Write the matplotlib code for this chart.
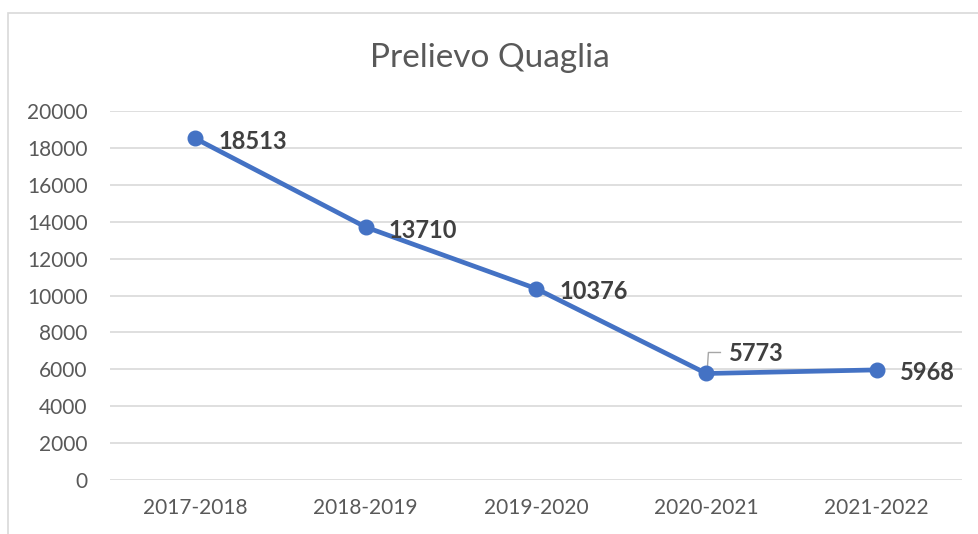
import matplotlib
matplotlib.use("Agg")
import matplotlib.pyplot as plt
from matplotlib.patches import Rectangle

categories = ["2017-2018", "2018-2019", "2019-2020", "2020-2021", "2021-2022"]
values = [18513, 13710, 10376, 5773, 5968]
yticks = [0, 2000, 4000, 6000, 8000, 10000, 12000, 14000, 16000, 18000, 20000]
title = "Prelievo Quaglia"

plt.rcParams['font.family'] = ['Lato', 'DejaVu Sans']

fig = plt.figure(figsize=(9.79, 5.34), dpi=100)
ax = fig.add_axes([110/979, 54/534, 852/979, 369/534])

# chart border
fig.patches.append(Rectangle((8/979, -0.1), 1.2, 1 - 13/534 + 0.1, transform=fig.transFigure,
                             fill=False, edgecolor="#D9D9D9", linewidth=1.2))

x = list(range(len(categories)))
ax.plot(x, values, color="#4472C4", linewidth=3.4, marker="o", markersize=10.5,
        solid_capstyle="round", zorder=3)

ax.set_xlim(-0.5, len(categories) - 0.5)
ax.set_ylim(0, 20000)
ax.set_yticks(yticks)
ax.set_yticklabels([str(v) for v in yticks])
ax.set_xticks(x)
ax.set_xticklabels(categories)
ax.grid(axis="y", color="#D9D9D9", linewidth=1.2)
ax.set_axisbelow(True)
for s in ax.spines.values():
    s.set_visible(False)
ax.tick_params(axis="both", length=0, labelsize=15, colors="#595959")
ax.tick_params(axis="y", pad=16)
ax.tick_params(axis="x", pad=13)

for i, v in enumerate(values):
    if i == 3:
        ax.annotate(str(v), (i, v), xytext=(23, 20), textcoords="offset pixels",
                    ha="left", va="center", fontsize=17, fontweight="bold", color="#404040")
        p0 = ax.transData.transform((i, v))
        inv = ax.transData.inverted()
        pts = [inv.transform((p0[0] + 1, p0[1] + 6)),
               inv.transform((p0[0] + 2, p0[1] + 21)),
               inv.transform((p0[0] + 14, p0[1] + 21))]
        ax.plot([p[0] for p in pts], [p[1] for p in pts], color="#A6A6A6", linewidth=1, zorder=2,
                clip_on=False)
    else:
        ax.annotate(str(v), (i, v), xytext=(23, -3), textcoords="offset pixels",
                    ha="left", va="center", fontsize=17, fontweight="bold", color="#404040")

fig.text(0.5, 1 - 58/534, title, ha="center", va="center", fontsize=24, color="#595959")

fig.savefig("out.png", dpi=100)
